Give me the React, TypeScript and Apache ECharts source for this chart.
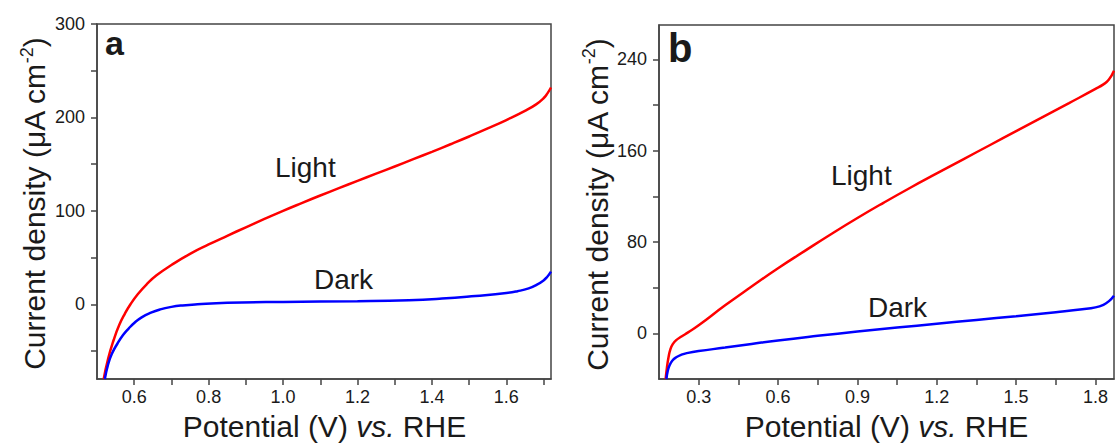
import React, { useEffect, useRef } from "react";
import * as echarts from "echarts";

const FONT = "'Liberation Sans', Arial, Helvetica, sans-serif";

// Panel a
const lightAX = [0.518, 0.53, 0.545, 0.56, 0.575, 0.59, 0.61, 0.635, 0.66, 0.7, 0.75, 0.8, 0.85, 0.9, 0.95, 1.0, 1.05, 1.1, 1.15, 1.2, 1.25, 1.3, 1.35, 1.4, 1.45, 1.5, 1.55, 1.6, 1.65, 1.68, 1.7, 1.71, 1.72];
const lightAY = [-80, -58, -38, -22, -10, 0, 11, 22, 31, 42, 54, 64, 73.3, 82.4, 91.3, 100, 108.3, 116.4, 124.3, 132.1, 139.8, 147.5, 155.3, 163.2, 171.3, 179.6, 188.2, 197.2, 207, 214, 220.5, 225.5, 232];
const darkAX = [0.521, 0.53, 0.54, 0.555, 0.57, 0.585, 0.6, 0.62, 0.645, 0.67, 0.7, 0.73, 0.77, 0.85, 1.0, 1.2, 1.338, 1.427, 1.517, 1.6, 1.63, 1.66, 1.68, 1.7, 1.71, 1.72];
const darkAY = [-80, -64, -53, -42, -33, -26, -20, -14, -9, -5.5, -2.8, -1.2, 0, 1.5, 2.5, 3.2, 4.3, 6.1, 8.9, 12, 14, 17, 20.5, 25.5, 29.5, 35];

// Panel b
const lightBX = [0.175, 0.18, 0.186, 0.193, 0.202, 0.215, 0.235, 0.26, 0.3, 0.4, 0.5, 0.6, 0.7, 0.8, 0.9, 1.0, 1.1, 1.2, 1.3, 1.4, 1.5, 1.6, 1.7, 1.8, 1.83, 1.85, 1.87];
const lightBY = [-40, -30, -21, -14, -9.5, -6, -2.8, 0.8, 7, 24.5, 41, 57, 72, 86.8, 101, 114.5, 127.5, 140, 152.4, 164.7, 177, 189.3, 201.6, 214, 218, 222, 230];
const darkBX = [0.178, 0.183, 0.19, 0.2, 0.215, 0.235, 0.26, 0.3, 0.4, 0.5, 0.6, 0.75, 0.9, 1.05, 1.2, 1.35, 1.5, 1.65, 1.75, 1.8, 1.83, 1.85, 1.87];
const darkBY = [-40, -33, -28, -24, -21, -18.7, -17.1, -15.5, -12.5, -9.3, -6.2, -2.2, 1.5, 5, 8.4, 11.7, 15, 18.5, 21, 22.7, 25, 28, 33];

// Ticks and labels
const xTicksA = [0.6, 0.7, 0.8, 0.9, 1.0, 1.1, 1.2, 1.3, 1.4, 1.5, 1.6, 1.7];
const xLabelsA = [0.6, 0.8, 1.0, 1.2, 1.4, 1.6];
const yTicksA = [-50, 0, 50, 100, 150, 200, 250, 300];
const yLabelsA = [0, 100, 200, 300];
const xTicksB = [0.3, 0.45, 0.6, 0.75, 0.9, 1.05, 1.2, 1.35, 1.5, 1.65, 1.8];
const xLabelsB = [0.3, 0.6, 0.9, 1.2, 1.5, 1.8];
const yTicksB = [0, 40, 80, 120, 160, 200, 240];
const yLabelsB = [0, 80, 160, 240];

const zip = (xs: number[], ys: number[]) => xs.map((x, i) => [x, ys[i]]);

const AXIS_COLOR = "#444";
const TEXT_COLOR = "#1a1a1a";

function xAxis(grid: number, min: number, max: number, ticks: number[], labels: number[]) {
  return {
    type: "value",
    gridIndex: grid,
    min,
    max,
    axisLine: { show: true, onZero: false, lineStyle: { color: AXIS_COLOR, width: 1.5 } },
    axisTick: { show: true, inside: false, length: 6, customValues: ticks, lineStyle: { color: AXIS_COLOR, width: 1.5 } },
    axisLabel: {
      customValues: labels,
      formatter: (v: number) => v.toFixed(1),
      fontSize: 18,
      color: TEXT_COLOR,
      fontFamily: FONT,
      margin: 9,
    },
    splitLine: { show: false },
  };
}

function yAxis(grid: number, min: number, max: number, ticks: number[], labels: number[]) {
  return {
    type: "value",
    gridIndex: grid,
    min,
    max,
    axisLine: { show: true, onZero: false, lineStyle: { color: AXIS_COLOR, width: 1.5 } },
    axisTick: { show: true, inside: false, length: 6, customValues: ticks, lineStyle: { color: AXIS_COLOR, width: 1.5 } },
    axisLabel: {
      customValues: labels,
      formatter: (v: number) => String(v),
      fontSize: 18,
      color: TEXT_COLOR,
      fontFamily: FONT,
      margin: 12,
    },
    splitLine: { show: false },
  };
}

function series(name: string, xi: number, data: number[][], color: string) {
  return {
    name,
    type: "line",
    xAxisIndex: xi,
    yAxisIndex: xi,
    data,
    showSymbol: false,
    smooth: 0.5,
    lineStyle: { color, width: 2.5 },
    clip: true,
  };
}

const richMain = { fontSize: 30, fontFamily: FONT, fill: TEXT_COLOR, lineHeight: 34 };

function yTitle(x: number, y: number) {
  return {
    type: "text",
    x,
    y,
    rotation: Math.PI / 2,
    style: {
      text: "{n|Current density (μA cm}{s|-2}{n|)}",
      align: "center",
      verticalAlign: "middle",
      fill: TEXT_COLOR,
      rich: {
        n: richMain,
        s: { fontSize: 18, fontFamily: FONT, fill: TEXT_COLOR, lineHeight: 34, verticalAlign: "top", padding: [0, 0, 14, 0] },
      },
    },
  };
}

function xTitle(x: number, y: number) {
  return {
    type: "text",
    x,
    y,
    style: {
      text: "{n|Potential (V) }{i|vs.}{n| RHE}",
      align: "center",
      verticalAlign: "middle",
      fill: TEXT_COLOR,
      rich: {
        n: richMain,
        i: { ...richMain, fontStyle: "italic" },
      },
    },
  };
}

function note(text: string, x: number, y: number, size = 28, bold = false) {
  return {
    type: "text",
    x,
    y,
    style: {
      text,
      align: "left",
      verticalAlign: "middle",
      fill: TEXT_COLOR,
      fontSize: size,
      fontFamily: FONT,
      fontWeight: bold ? "bold" : "normal",
    },
  };
}

export default function App() {
  const ref = useRef<HTMLDivElement>(null);
  useEffect(() => {
    if (!ref.current) return;
    const chart = echarts.init(ref.current, undefined, { renderer: "svg" });
    chart.setOption({
      animation: false,
      backgroundColor: "#ffffff",
      grid: [
        { left: 97, top: 24, width: 454, height: 355, show: true, borderColor: AXIS_COLOR, borderWidth: 1.5, backgroundColor: "transparent" },
        { left: 659, top: 25, width: 455, height: 354, show: true, borderColor: AXIS_COLOR, borderWidth: 1.5, backgroundColor: "transparent" },
      ],
      xAxis: [xAxis(0, 0.5, 1.72, xTicksA, xLabelsA), xAxis(1, 0.15, 1.87, xTicksB, xLabelsB)],
      yAxis: [yAxis(0, -80, 300, yTicksA, yLabelsA), yAxis(1, -40, 270, yTicksB, yLabelsB)],
      series: [
        series("Light a", 0, zip(lightAX, lightAY), "#ff0000"),
        series("Dark a", 0, zip(darkAX, darkAY), "#0000ff"),
        series("Light b", 1, zip(lightBX, lightBY), "#ff0000"),
        series("Dark b", 1, zip(darkBX, darkBY), "#0000ff"),
      ],
      graphic: [
        yTitle(34.5, 204),
        yTitle(597, 205),
        xTitle(324.5, 426.5),
        xTitle(886.5, 426.5),
        note("Light", 275, 167.5),
        note("Dark", 314, 279.5),
        note("Light", 831, 175.5),
        note("Dark", 868, 307.5),
        note("a", 105, 43, 34, true),
        note("b", 668, 48, 40, true),
      ],
    });
    return () => chart.dispose();
  }, []);
  return (
    <div
      ref={ref}
      style={{ position: "fixed", left: 0, top: 0, width: 1116, height: 446, background: "#fff" }}
    />
  );
}
